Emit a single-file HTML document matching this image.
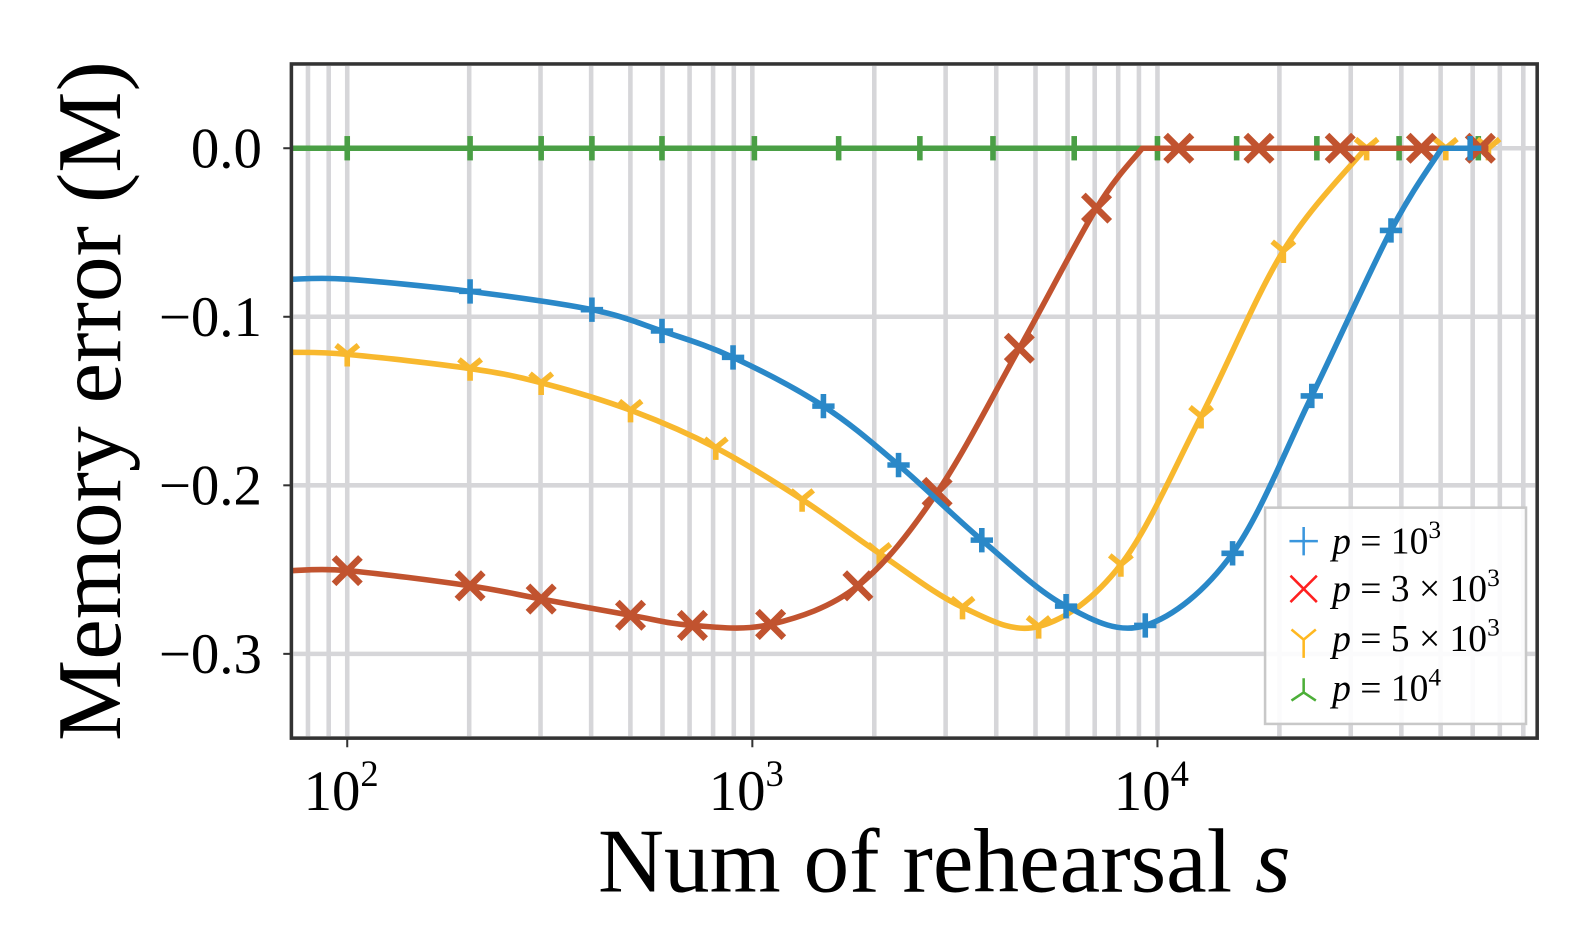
<!DOCTYPE html>
<html><head><meta charset="utf-8">
<style>
html,body{margin:0;padding:0;background:#fff;}
svg{display:block;font-family:"Liberation Serif",serif;}
</style></head>
<body>
<svg width="1592" height="926" viewBox="0 0 1592 926" xmlns="http://www.w3.org/2000/svg">
<rect width="1592" height="926" fill="#fff"/>
<g transform="scale(1.01531)">
<g id="grid" stroke="#d6d6d9" stroke-width="4.5"></g>
<g id="series" fill="none" stroke-linecap="butt" stroke-linejoin="round"></g>
<rect x="287" y="63" width="1227" height="664" fill="none" stroke="#333" stroke-width="3.5"/>
<g stroke="#333" stroke-width="2">
<line x1="279" y1="146" x2="287" y2="146"/><line x1="279" y1="312" x2="287" y2="312"/>
<line x1="279" y1="478" x2="287" y2="478"/><line x1="279" y1="644" x2="287" y2="644"/>
<line x1="342" y1="727" x2="342" y2="736"/><line x1="741" y1="727" x2="741" y2="736"/><line x1="1140" y1="727" x2="1140" y2="736"/>
</g>
<g font-size="56" text-anchor="end" fill="#000">
<text x="258" y="165">0.0</text>
<text x="258" y="331">−0.1</text>
<text x="258" y="497">−0.2</text>
<text x="258" y="663">−0.3</text>
</g>
<g font-size="56" text-anchor="middle" fill="#000">
<text x="336" y="798">10<tspan font-size="36" dy="-24">2</tspan></text>
<text x="735" y="798">10<tspan font-size="36" dy="-24">3</tspan></text>
<text x="1134" y="798">10<tspan font-size="36" dy="-24">4</tspan></text>
</g>
<text x="930" y="878" font-size="90" text-anchor="middle">Num of rehearsal <tspan font-style="italic">s</tspan></text>
<text transform="translate(118,395) rotate(-90)" font-size="90" text-anchor="middle">Memory error (M)</text>
<rect x="1246" y="500" width="257" height="213" fill="#fff" fill-opacity="0.9" stroke="#c8c8c8" stroke-width="2.5"/>
<g stroke-width="2.5" fill="none">
<path d="M1270 533 H1298 M1284 519 V547" stroke="#3a96dd"/>
<path d="M1271 567 L1297 593 M1297 567 L1271 593" stroke="#ff2020"/>
<path d="M1284 630 V648 M1284 630 L1272 620 M1284 630 L1296 620" stroke="#ffb820"/>
<path d="M1284 668 V682 M1284 682 L1272 690 M1284 682 L1296 690" stroke="#4caf38"/>
</g>
<g font-size="37" fill="#000">
<text x="1312" y="545"><tspan font-style="italic">p</tspan> = 10<tspan font-size="25" dy="-15">3</tspan></text>
<text x="1312" y="592"><tspan font-style="italic">p</tspan> = 3 × 10<tspan font-size="25" dy="-15">3</tspan></text>
<text x="1312" y="641"><tspan font-style="italic">p</tspan> = 5 × 10<tspan font-size="25" dy="-15">3</tspan></text>
<text x="1312" y="690"><tspan font-style="italic">p</tspan> = 10<tspan font-size="25" dy="-15">4</tspan></text>
</g>
</g>
</svg>
<script>
var NS="http://www.w3.org/2000/svg";
function el(p,t,a){var e=document.createElementNS(NS,t);for(var k in a)e.setAttribute(k,a[k]);p.appendChild(e);return e;}
var g=document.getElementById("grid");
function X(v){return 342+399*Math.log10(v/100);}
var xs=[];
[10,100,1000,10000].forEach(function(d){for(var i=1;i<10;i++){var v=d*i;var x=X(v);if(x>289&&x<1512)xs.push(x);}});
xs.forEach(function(x){el(g,"line",{x1:x,y1:65,x2:x,y2:725});});
[146,312,478,644].forEach(function(y){el(g,"line",{x1:289,y1:y,x2:1512,y2:y});});
function cr(pts){var d="M"+pts[0][0]+" "+pts[0][1];for(var i=0;i<pts.length-1;i++){var p0=pts[i-1]||pts[i],p1=pts[i],p2=pts[i+1],p3=pts[i+2]||p2;
var c1=[p1[0]+(p2[0]-p0[0])/6,p1[1]+(p2[1]-p0[1])/6],c2=[p2[0]-(p3[0]-p1[0])/6,p2[1]-(p3[1]-p1[1])/6];
d+=" C"+c1[0]+" "+c1[1]+" "+c2[0]+" "+c2[1]+" "+p2[0]+" "+p2[1];}return d;}
var S=document.getElementById("series");
function series(pts,endx,col,marks,type){
 var last=pts[pts.length-1];
 el(S,"path",{d:cr(pts)+(endx?" L"+endx+" "+last[1]:""),stroke:col,"stroke-width":5.5});
 marks.forEach(function(m){var x=m[0],y=m[1],d;
  if(type=="+")d="M"+(x-11)+" "+y+" H"+(x+11)+" M"+x+" "+(y-12)+" V"+(y+12);
  else if(type=="x")d="M"+(x-13)+" "+(y-13)+" L"+(x+13)+" "+(y+13)+" M"+(x+13)+" "+(y-13)+" L"+(x-13)+" "+(y+13);
  else if(type=="y")d="M"+x+" "+y+" V"+(y+12)+" M"+x+" "+y+" L"+(x-11)+" "+(y-9)+" M"+x+" "+y+" L"+(x+11)+" "+(y-9);
  else d="M"+x+" "+(y-12)+" V"+(y+12);
  el(S,"path",{d:d,stroke:col,"stroke-width":type=="x"?6.5:5.5});});
}
var G=[342,463,533,583,652,743,826,906,978,1058,1140,1218,1297,1378,1456].map(function(x){return [x,146];});
series([[288,146],[1466,146]],0,"#4a9f45",G,"g");
var yel=[[288,347],[342,349],[463,363],[533,377],[621,404],[705,441],[790,492],[866,545],[948,598],[1023,617],[1104,556],[1183,410],[1264,247],[1345,146]];
series(yel,1466,"#f8b82e",[[342,349],[463,363],[533,377],[621,404],[705,441],[790,492],[866,545],[948,598],[1023,617],[1104,556],[1183,410],[1264,247],[1346,146],[1424,146],[1466,146]],"y");
var red=[[288,562],[342,562],[463,577],[533,590],[621,606],[682,616],[759,615],[845,577],[923,485],[1004,343],[1080,205],[1125,146]];
series(red,1466,"#c1532f",[[342,562],[463,577],[533,590],[621,606],[682,616],[759,615],[845,577],[923,485],[1004,343],[1080,205],[1161,146],[1240,146],[1320,146],[1400,146],[1458,146]],"x");
var blu=[[288,275],[342,275],[463,287],[583,305],[652,326],[722,352],[811,400],[885,458],[967,532],[1050,597],[1128,616],[1214,545],[1292,390],[1370,227],[1420,146]];
series(blu,1456,"#2a88c8",[[463,287],[583,305],[652,326],[722,352],[811,400],[885,458],[967,532],[1050,597],[1128,616],[1214,545],[1292,390],[1370,227],[1448,146]],"+");
</script>
</body></html>
